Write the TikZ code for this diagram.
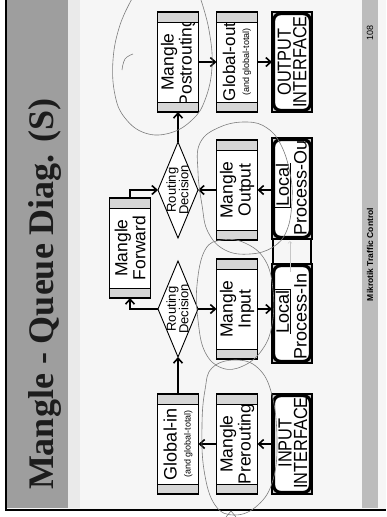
\documentclass[tikz,border=0pt]{standalone}
\usepackage{fontspec}
\setmainfont{Liberation Sans}
\newfontfamily\serifface{Liberation Serif}
\newfontfamily\condface[FakeStretch=0.86]{Liberation Sans}
\usetikzlibrary{arrows.meta,calc,shapes.geometric}

\definecolor{titleband}{RGB}{158,158,158}
\definecolor{footband}{RGB}{188,188,188}
\definecolor{bodybg}{RGB}{246,246,246}
\definecolor{stripbg}{RGB}{234,234,234}
\definecolor{bandgray}{RGB}{214,214,214}
\definecolor{pencil}{RGB}{125,125,125}
\definecolor{cornergray}{RGB}{205,205,205}
\definecolor{titletext}{RGB}{28,28,28}

\newcommand\qbands[1]{%
  \fill[bandgray] (#1.north east) rectangle ($(#1.south east)+(0,10)$);
  \fill[bandgray] ($(#1.north west)+(0,-10)$) rectangle (#1.south west);
  \draw[line width=0.8pt] ($(#1.north east)+(0,10)$) -- ($(#1.south east)+(0,10)$);
  \draw[line width=0.8pt] ($(#1.north west)+(0,-10)$) -- ($(#1.south west)+(0,-10)$);
  \draw[line width=1.3pt] (#1.north east) rectangle (#1.south west);
}
\newcommand\ifinside[1]{%
  \draw[ifinner] ($(#1.north east)+(1.6,1.6)$) rectangle ($(#1.south west)+(-1.6,-1.6)$);
}
\newcommand\ifclip[1]{%
  \clip[rounded corners=5pt] ($(#1.north east)+(3.2,3.2)$) rectangle ($(#1.south west)+(-3.2,-3.2)$);
}

\begin{document}
\begin{tikzpicture}[x=1pt,y=-1pt,
  qbox/.style={rotate=90, draw=black, line width=1.3pt, fill=white, minimum width=100pt,
    minimum height=41pt, inner sep=0pt, outer sep=0pt, align=center, font=\fontsize{17.5}{18}\selectfont},
  rdia/.style={rotate=90, diamond, draw=black, line width=0.9pt, fill=white, minimum width=96pt,
    minimum height=40pt, inner sep=0pt, outer sep=0pt},
  rtext/.style={rotate=90, align=center, inner sep=0pt, font=\fontsize{13}{12.5}\selectfont},
  ifshape/.style={rotate=90, fill=cornergray, draw=black, line width=1.2pt, minimum height=40pt,
    inner sep=0pt, outer sep=0pt},
  ifinner/.style={draw=black, fill=white, line width=3.2pt, rounded corners=7pt},
  iftext/.style={rotate=90, align=center, inner sep=0pt, font=\condface\fontsize{19}{15.5}\selectfont},
  ltext/.style={rotate=90, inner sep=0pt, font=\fontsize{18}{18}\selectfont},
  lframe/.style={rotate=90, inner sep=0.6pt, font=\fontsize{18}{18}\selectfont},
  arr/.style={line width=1.6pt, -{Straight Barb[length=5pt,width=9pt]}},
  pencilline/.style={draw=pencil, line width=0.6pt},
]
\useasboundingbox (0,0) rectangle (386,517);
\clip (0,0) rectangle (386,517);

% slide background
\fill[white] (0,0) rectangle (386,517);
\fill[bodybg] (6,0) rectangle (386,509);
\fill[stripbg] (68,0) rectangle (80,508);
\fill[titleband] (6,0) rectangle (68,508);
\fill[footband] (362,0) rectangle (378,508);
\draw[line width=2pt] (6,0) -- (6,509.5) -- (386,509.5);

% title and footer
\node[rotate=90, anchor=base, inner sep=0pt, text=titletext,
  font=\serifface\bfseries\fontsize{36}{36}\selectfont] (title) at (53,294) {Mangle - Queue Diag. (S)};
\node[rotate=90, inner sep=0pt, font=\bfseries\fontsize{8.5}{9}\selectfont] (foot) at (370,254.5) {Mikrotik Traffic Control};
\node[rotate=90, inner sep=0pt, font=\fontsize{9}{9}\selectfont] (page) at (370,33) {108};

% queue boxes
\node[qbox] (post) at (178,62) {Mangle\\Postrouting};
\qbands{post}
\node[qbox] (gout) at (237,62) {{\fontsize{17}{18}\selectfont Global-out}\\[-4pt]{\fontsize{9}{10}\selectfont (and global-total)}};
\qbands{gout}
\node[qbox] (fwd) at (130,248) {Mangle\\Forward};
\qbands{fwd}
\node[qbox] (output) at (237,190) {Mangle\\Output};
\qbands{output}
\node[qbox] (input) at (237,309) {Mangle\\Input};
\qbands{input}
\node[qbox] (glin) at (178,444) {{\fontsize{18}{18}\selectfont Global-in}\\[-4pt]{\fontsize{9}{10}\selectfont (and global-total)}};
\qbands{glin}
\node[qbox] (prer) at (237,444) {Mangle\\Prerouting};
\qbands{prer}

% routing decisions
\node[rdia] (rd2) at (178,190) {};
\node[rtext] (rd2t) at (177.5,190) {Routing\\Decision};
\node[rdia] (rd1) at (178,309) {};
\node[rtext] (rd1t) at (177.5,309) {Routing\\Decision};

% interfaces
\node[ifshape, minimum width=100pt] (outif) at (292,62) {};
\ifinside{outif}
\begin{scope}\ifclip{outif}
\node[iftext] (outift) at (292,62) {OUTPUT\\INTERFACE};
\end{scope}

\node[ifshape, minimum width=100pt] (inif) at (292,444) {};
\ifinside{inif}
\begin{scope}\ifclip{inif}
\node[iftext] (inift) at (293,443) {INPUT\\INTERFACE};
\end{scope}

% local process boxes
\node[ifshape, minimum width=101pt] (lpout) at (292,188.5) {};
\node[ifshape, minimum width=99pt] (lpin) at (292,313.5) {};
\draw[line width=2.2pt] ([xshift=1.1pt]lpout.north west) -- ([xshift=1.1pt]lpin.north east);
\draw[line width=2.2pt] ([xshift=-1.1pt]lpout.south west) -- ([xshift=-1.1pt]lpin.south east);
\ifinside{lpout}
\ifinside{lpin}
\begin{scope}\ifclip{lpout}
\node[lframe] (lpoutl) at (282.5,185) {Local};
\draw[line width=0.5pt] (lpoutl.north west) -- (lpoutl.south west) -- (lpoutl.south east);
\node[ltext] (lpoutp) at (300.5,185.5) {Process-Out};
\end{scope}
\begin{scope}\ifclip{lpin}
\node[lframe] (lpinl) at (282.5,312) {Local};
\draw[line width=0.5pt] (lpinl.north east) -- (lpinl.south east) -- (lpinl.south west);
\node[ltext] (lpinp) at (300.5,316) {Process-In};
\end{scope}

% connectors
\draw[arr] (inif.north) -- (prer.south);
\draw[arr] (prer.north) -- (glin.south);
\draw[arr] (glin.east) -- (rd1.west);
\draw[arr] (rd1.south) -- (input.north);
\draw[arr] (input.south) -- (input.south -| lpin.north);
\draw[arr] (rd1.north) -| (fwd.west);
\draw[arr] (fwd.east) |- (rd2.north);
\draw[arr] (lpout.north |- output.south) -- (output.south);
\draw[arr] (output.north) -- (rd2.south);
\draw[arr] (rd2.east) -- (post.west);
\draw[arr] (post.south) -- (gout.north);
\draw[arr] (gout.south) -- (outif.north);

% faint pencil marks
\draw[gray!45, line width=0.5pt, -{Straight Barb[length=2pt,width=4pt]}] (290,272) -- (290,241);
\draw[pencilline] plot[smooth, tension=0.7] coordinates {(133,-3) (120,25) (113,60) (115,95) (125,118) (145,133) (170,133) (192,120) (205,100) (212,67) (209,30) (200,-3)};
\draw[pencilline] plot[smooth, tension=0.7] coordinates {(133,54) (125,59) (122,70)};
\draw[pencilline] plot[smooth cycle, tension=0.7] coordinates {(200,143) (220,127) (247,122) (267,128) (281,145) (290,173) (292,200) (287,230) (273,247) (250,254) (225,250) (208,232) (202,205) (198,172)};
\draw[pencilline] plot[smooth cycle, tension=0.7] coordinates {(205,250) (222,240) (245,243) (265,260) (273,290) (272,325) (262,350) (243,366) (222,368) (205,352) (198,320) (197,285)};
\draw[pencilline] plot[smooth cycle, tension=0.7] coordinates {(212,368) (235,360) (258,368) (272,395) (277,440) (273,480) (258,505) (235,515) (215,505) (204,470) (202,425) (205,390)};
\draw[pencilline] (226,517) -- (231,511) -- (236,517);
\end{tikzpicture}
\end{document}
